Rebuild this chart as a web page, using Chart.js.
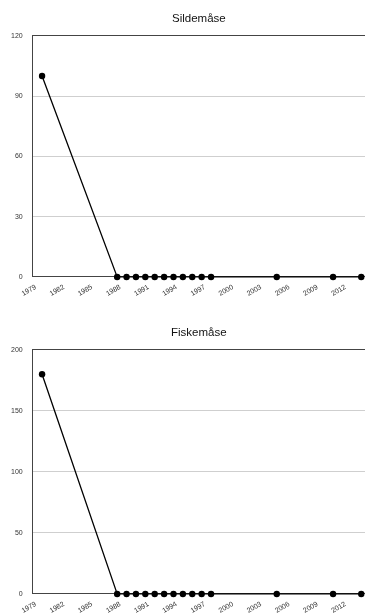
<!DOCTYPE html>
<html>
<head>
<meta charset="utf-8">
<script src="https://cdn.jsdelivr.net/npm/chart.js@4/dist/chart.umd.min.js"></script>
<style>
  html, body { margin: 0; padding: 0; background: #fff; overflow: hidden; }
  .box { position: absolute; left: 0; width: 369px; }
  #top { top: 0; height: 304px; }
  #bottom { top: 314px; height: 307px; }
</style>
</head>
<body>
<div class="box" id="top"><canvas id="sildeChart"></canvas></div>
<div class="box" id="bottom"><canvas id="fiskeChart"></canvas></div>
<script>
// Data
const years = [1980, 1988, 1989, 1990, 1991, 1992, 1993, 1994, 1995, 1996, 1997, 1998, 2005, 2011, 2014];
const sildeValues = [100, 0, 0, 0, 0, 0, 0, 0, 0, 0, 0, 0, 0, 0, 0];
const fiskeValues = [180, 0, 0, 0, 0, 0, 0, 0, 0, 0, 0, 0, 0, 0, 0];
const yearTicks = [1979, 1982, 1985, 1988, 1991, 1994, 1997, 2000, 2003, 2006, 2009, 2012];
const sildeYTicks = [0, 30, 60, 90, 120];
const fiskeYTicks = [0, 50, 100, 150, 200];

const fontFamily = '"Liberation Sans", Arial, Helvetica, sans-serif';

function makeChart(canvasId, title, values, yTicks) {
    const yMax = yTicks[yTicks.length - 1];
    return new Chart(document.getElementById(canvasId), {
        type: 'line',
        data: {
            datasets: [{
                label: title,
                data: years.map((y, i) => ({ x: y, y: values[i] })),
                borderColor: '#000',
                backgroundColor: '#000',
                borderWidth: 1.3,
                pointRadius: 3.2,
                pointBackgroundColor: '#000',
                pointBorderWidth: 0,
                tension: 0,
                clip: false
            }]
        },
        options: {
            responsive: true,
            maintainAspectRatio: false,
            animation: false,
            layout: { padding: { left: 1, right: 0, top: 0, bottom: 0 } },
            scales: {
                x: {
                    type: 'linear',
                    min: 1979,
                    max: 2014.4,
                    afterBuildTicks: axis => { axis.ticks = yearTicks.map(v => ({ value: v })); },
                    grid: { display: false, drawTicks: false },
                    border: { display: true, color: '#444', width: 1 },
                    ticks: {
                        autoSkip: false,
                        minRotation: 30,
                        maxRotation: 30,
                        padding: 6,
                        labelOffset: 3,
                        color: '#333',
                        font: { family: fontFamily, size: 7 },
                        callback: v => String(v)
                    }
                },
                y: {
                    min: 0,
                    max: yMax,
                    afterBuildTicks: axis => { axis.ticks = yTicks.map(v => ({ value: v })); },
                    grid: {
                        drawTicks: false,
                        color: ctx => (ctx.tick && ctx.tick.value === yMax) ? '#444' : '#cfcfcf',
                        lineWidth: 1
                    },
                    border: { display: true, color: '#444', width: 1 },
                    ticks: {
                        padding: 10,
                        color: '#333',
                        font: { family: fontFamily, size: 7 }
                    }
                }
            },
            plugins: {
                legend: { display: false },
                tooltip: { enabled: false },
                title: {
                    display: true,
                    text: title,
                    fullSize: false,
                    color: '#111',
                    font: { family: fontFamily, size: 11.5, weight: 'normal' },
                    padding: { top: 12, bottom: 10 }
                }
            }
        }
    });
}

makeChart('sildeChart', 'Sildemåse', sildeValues, sildeYTicks);
makeChart('fiskeChart', 'Fiskemåse', fiskeValues, fiskeYTicks);
</script>
</body>
</html>
